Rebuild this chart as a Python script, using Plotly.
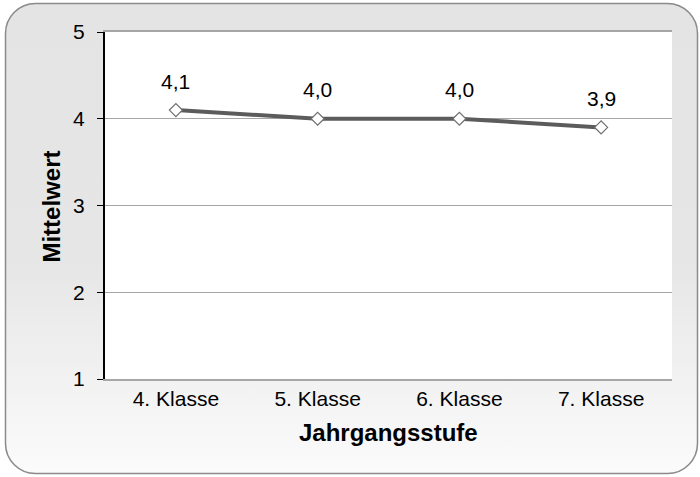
import base64
import plotly.graph_objects as go

categories = ["4. Klasse", "5. Klasse", "6. Klasse", "7. Klasse"]
mittelwert = [4.1, 4.0, 4.0, 3.9]
y_ticks = [1, 2, 3, 4, 5]
x_title = "Jahrgangsstufe"
y_title = "Mittelwert"

W, H = 700, 477
L, R, T, B = 105, 28, 32, 98
pw, ph = W - L - R, H - T - B

svg = f'''<svg xmlns="http://www.w3.org/2000/svg" width="{W}" height="{H}" viewBox="0 0 {W} {H}">
<defs><linearGradient id="g" x1="0" y1="0" x2="0" y2="1">
<stop offset="0" stop-color="#e4e4e4"/><stop offset="0.55" stop-color="#e6e6e6"/><stop offset="1" stop-color="#fbfbfb"/>
</linearGradient></defs>
<rect x="5.5" y="3.5" width="692" height="470" rx="30" ry="30" fill="url(#g)" stroke="#8a8a8a" stroke-width="1.5"/>
<rect x="{L}" y="{T}" width="{pw}" height="{ph}" fill="#ffffff"/>
</svg>'''
src = "data:image/svg+xml;base64," + base64.b64encode(svg.encode()).decode()

fig = go.Figure()
fig.add_trace(go.Scatter(
    x=categories, y=mittelwert, mode="lines+markers",
    line=dict(color="#5c5c5c", width=4),
    marker=dict(symbol="diamond", size=10, color="white",
                line=dict(color="#6e6e6e", width=1.2)),
    hoverinfo="skip", showlegend=False,
))

for c, v in zip(categories, mittelwert):
    fig.add_annotation(x=c, y=v, text=f"{v:.1f}".replace(".", ","),
                       showarrow=False, yshift=29, yanchor="middle",
                       font=dict(size=21, color="#000000"))

fig.add_annotation(xref="paper", yref="paper", x=0.5, y=-0.155,
                   text=f"<b>{x_title}</b>", showarrow=False,
                   xanchor="center", yanchor="middle",
                   font=dict(size=24, color="#000000"))
fig.add_annotation(xref="paper", yref="paper", x=(52 - L) / pw, y=0.497,
                   text=f"<b>{y_title}</b>", showarrow=False, textangle=-90,
                   xanchor="center", yanchor="middle",
                   font=dict(size=24, color="#000000"))

fig.add_layout_image(dict(
    source=src, xref="paper", yref="paper",
    x=-L / pw, y=1 + T / ph, sizex=W / pw, sizey=H / ph,
    xanchor="left", yanchor="top", sizing="stretch", layer="below",
))

fig.update_layout(
    width=W, height=H,
    margin=dict(l=L, r=R, t=T, b=B, pad=0),
    paper_bgcolor="white", plot_bgcolor="rgba(0,0,0,0)",
    font=dict(family="Liberation Sans, Arial, sans-serif", size=21, color="#000000"),
    xaxis=dict(
        type="category", range=[-0.5, 3.5], showgrid=False,
        showline=True, linecolor="#a6a6a6", linewidth=2, mirror=True,
        ticks="", tickfont=dict(size=21), ticklabelstandoff=0,
        zeroline=False, fixedrange=True,
    ),
    yaxis=dict(
        range=[1, 5], tickvals=y_ticks, ticktext=[str(t) for t in y_ticks],
        showgrid=True, gridcolor="#a6a6a6", gridwidth=1,
        showline=True, linecolor="#000000", linewidth=2,
        ticks="outside", ticklen=6, tickcolor="#000000", tickwidth=1,
        tickfont=dict(size=21), ticklabelstandoff=8,
        zeroline=False, fixedrange=True,
    ),
)

fig.write_html("out.html",
               config={"displayModeBar": False, "staticPlot": True},
               post_script="document.body.style.margin='0';document.body.style.padding='0';")
